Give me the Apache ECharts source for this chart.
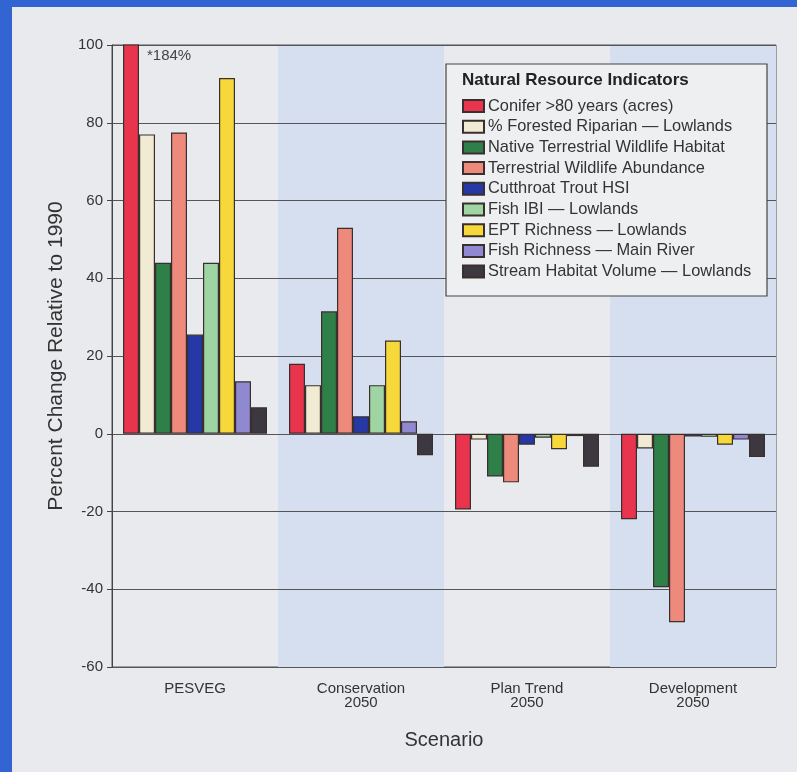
<!DOCTYPE html>
<html>
<head>
<meta charset="utf-8">
<script src="https://cdn.jsdelivr.net/npm/echarts@6/dist/echarts.min.js"></script>
<style>
html,body{margin:0;padding:0;background:#3264d2;width:797px;height:772px;overflow:hidden;}
#chart{position:absolute;left:12px;top:7px;width:785px;height:765px;}
</style>
</head>
<body>
<div id="chart"></div>
<script>
const categories = ['PESVEG', 'Conservation\n2050', 'Plan Trend\n2050', 'Development\n2050'];
const seriesNames = [
  'Conifer >80 years (acres)',
  '% Forested Riparian — Lowlands',
  'Native Terrestrial Wildlife Habitat',
  'Terrestrial Wildlife Abundance',
  'Cutthroat Trout HSI',
  'Fish IBI — Lowlands',
  'EPT Richness — Lowlands',
  'Fish Richness — Main River',
  'Stream Habitat Volume — Lowlands'
];
const conifer    = [184, 18, -19.5, -22];
const riparian   = [77, 12.5, -1.5, -3.8];
const nativeHab  = [44, 31.5, -11, -39.5];
const abundance  = [77.5, 53, -12.5, -48.5];
const cutthroat  = [25.5, 4.5, -2.8, -0.7];
const fishIBI    = [44, 12.5, -1, -0.8];
const ept        = [91.5, 24, -4, -2.8];
const fishRich   = [13.5, 3.2, -0.6, -1.5];
const stream     = [6.8, -5.5, -8.5, -6];
const yTicks = [-60, -40, -20, 0, 20, 40, 60, 80, 100];

const colors = ['#e8344c', '#f1ebd3', '#2f7f48', '#ee8a7c', '#2538a6', '#9fd5a2', '#f6d83a', '#9089d2', '#3d3840'];
const allData = [conifer, riparian, nativeHab, abundance, cutthroat, fishIBI, ept, fishRich, stream];

const series = allData.map((arr, i) => ({
  name: seriesNames[i],
  type: 'bar',
  barWidth: 16,
  barGap: '0%',
  clip: true,
  itemStyle: { color: colors[i], borderColor: '#3a2f2f', borderWidth: 1.2 },
  data: arr.map((v, j) => {
    if (i === 0 && j === 0) {
      return {
        value: v,
        label: {
          show: true,
          formatter: '*{c}%',
          position: ['150%', 4],
          color: '#444',
          fontSize: 15,
          fontFamily: 'Liberation Sans'
        }
      };
    }
    return v;
  })
}));

const chart = echarts.init(document.getElementById('chart'));
chart.setOption({
  backgroundColor: '#e9eaed',
  animation: false,
  textStyle: { fontFamily: 'Liberation Sans' },
  grid: { left: 100, right: 21, top: 38, bottom: 105, show: true, borderColor: '#555', borderWidth: 1, backgroundColor: 'transparent' },
  graphic: [
    { type: 'rect', z: 50, shape: { x: 434, y: 57, width: 321, height: 232 },
      style: { fill: '#eeeff1', stroke: '#444', lineWidth: 1.2 } },
    { type: 'text', z: 51, left: 450, top: 65,
      style: { text: 'Natural Resource Indicators', font: 'bold 17px "Liberation Sans"', fill: '#222' } }
  ],
  legend: {
    orient: 'vertical', left: 450, top: 90, padding: 0, z: 60,
    itemWidth: 21, itemHeight: 12, itemGap: 2.7,
    icon: 'rect',
    textStyle: { fontSize: 16.4, color: '#333', lineHeight: 18, fontFamily: 'Liberation Sans', padding: [0, 0, 0, -1] },
    data: seriesNames
  },
  xAxis: {
    type: 'category',
    z: 0,
    data: categories,
    name: 'Scenario', nameLocation: 'middle', nameGap: 63,
    nameTextStyle: { fontSize: 20, color: '#333' },
    axisLine: { lineStyle: { color: '#444' } },
    axisTick: { alignWithLabel: true, length: 5, lineStyle: { color: '#444' } },
    axisLabel: { fontSize: 15, color: '#333', lineHeight: 14, margin: 15 },
    splitArea: { show: true, areaStyle: { color: ['rgba(0,0,0,0)', '#d6dff0'] } }
  },
  yAxis: {
    type: 'value', min: -60, max: 100, interval: 20,
    z: 1,
    name: 'Percent Change Relative to 1990', nameLocation: 'middle', nameGap: 45,
    nameTextStyle: { fontSize: 21, color: '#333' },
    axisLine: { show: true, lineStyle: { color: '#444' } },
    axisTick: { show: true, length: 5, lineStyle: { color: '#444' } },
    axisLabel: { fontSize: 15, color: '#333', margin: 9,
      formatter: v => yTicks.includes(v) ? String(v) : '' },
    splitLine: { show: true, lineStyle: { color: '#555', width: 1 } }
  },
  series: series
});
</script>
</body>
</html>
